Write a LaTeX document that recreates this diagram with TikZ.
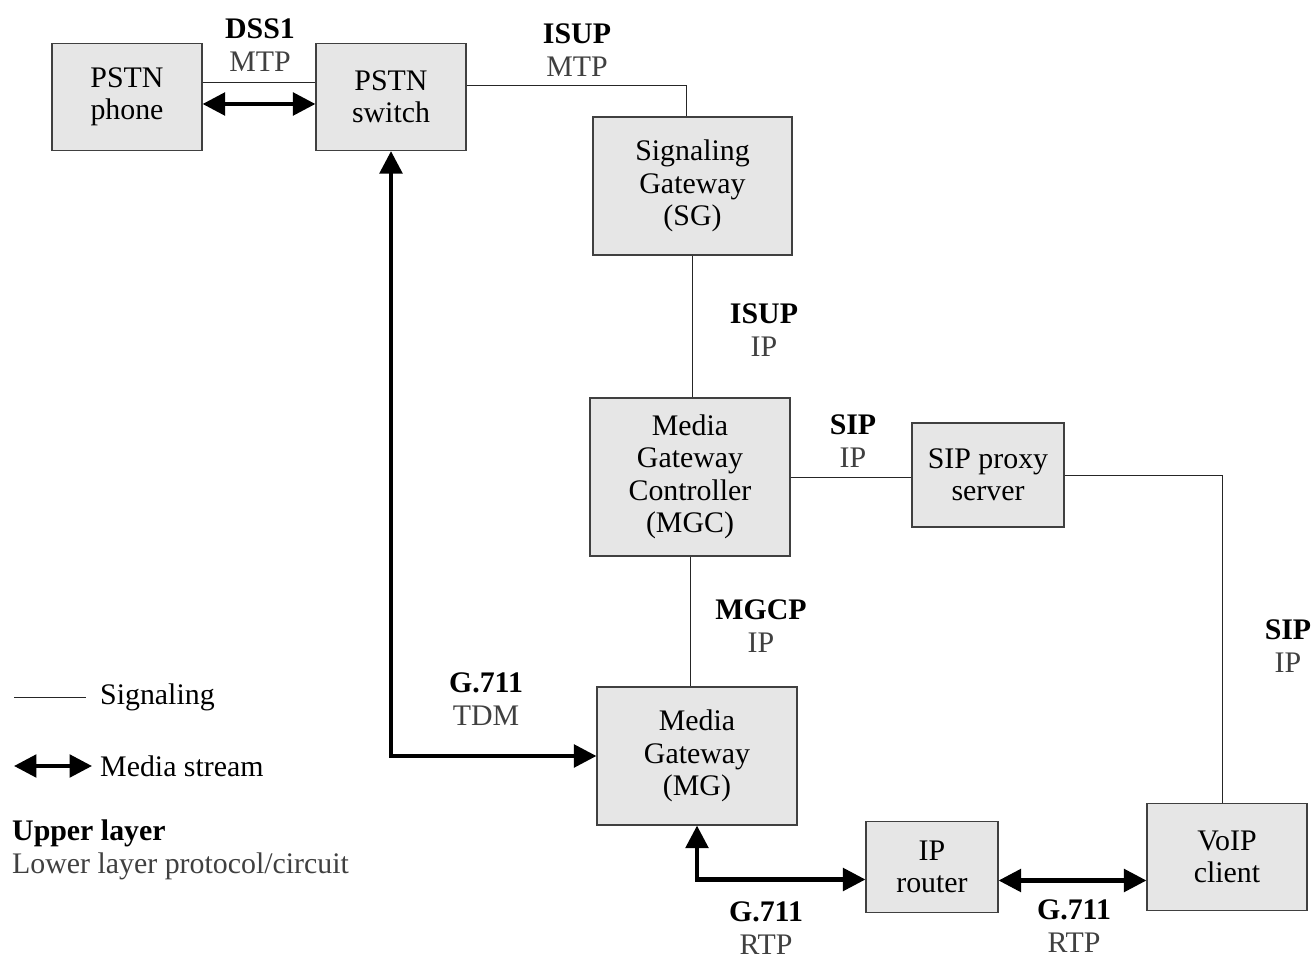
\documentclass[tikz,border=0pt]{standalone}
\usepackage{fontspec}
\setmainfont{Liberation Serif}
\usetikzlibrary{arrows.meta}
\definecolor{boxgray}{HTML}{E6E6E6}
\definecolor{lowgray}{HTML}{404040}
\newcommand{\layers}[2]{\textbf{#1}\\\textcolor{lowgray}{#2}}

\begin{document}
\begin{tikzpicture}[
            x=0.02cm, y=-0.02cm,
            every node/.style={font=\fontsize{17}{18.5}\selectfont, align=center},
            box/.style={draw=black!75, fill=boxgray, line width=0.7pt, inner sep=0pt},
            sig/.style={draw=black!85, line width=0.5pt},
            media/.style={line width=2.3pt,
                {Triangle[length=0.45cm,width=0.45cm]}-{Triangle[length=0.45cm,width=0.45cm]}}
            ]
            \useasboundingbox (0,0) rectangle (1312,959);
            % boxes
            \node[box, minimum width=3cm, minimum height=2.14cm] (phone) at (127, 97) {PSTN\\phone};
            \node[box, minimum width=3cm, minimum height=2.14cm] (switch) at (391, 97) {PSTN\\switch};
            \node[box, minimum width=3.98cm, minimum height=2.76cm] (sg) at (692.5, 186) {Signaling\\Gateway\\(SG)};
            \node[box, minimum width=4cm, minimum height=3.16cm] (mgc) at (690, 477) {Media\\Gateway\\Controller\\(MGC)};
            \node[box, minimum width=3.04cm, minimum height=2.08cm] (sip) at (988, 475) {SIP proxy\\server};
            \node[box, minimum width=4cm, minimum height=2.76cm] (mg) at (697, 756) {Media\\Gateway\\(MG)};
            \node[box, minimum width=2.64cm, minimum height=1.82cm] (router) at (932, 867) {IP\\router};
            \node[box, minimum width=3.2cm, minimum height=2.14cm] (voip) at (1227, 857) {VoIP\\client};
            % signaling
            \draw[sig] ([yshift=0.29cm]phone.east) -- ([yshift=0.29cm]switch.west);
            \draw[sig] ([yshift=0.23cm]switch.east) -| ([xshift=-0.13cm]sg.north);
            \draw[sig] (sg.south) -- (sg.south |- mgc.north);
            \draw[sig] (mgc.east) -- (mgc.east -| sip.west);
            \draw[sig] (sip.east) -| ([xshift=-0.1cm]voip.north);
            \draw[sig] (mgc.south) -- (mgc.south |- mg.north);
            % media
            \draw[media] ([yshift=-0.14cm]phone.east) -- ([yshift=-0.14cm]switch.west);
            \draw[media] (switch.south) |- (mg.west);
            \draw[media] (mg.south) |- ([yshift=-0.25cm]router.west);
            \draw[media] ([yshift=-0.27cm]router.east) -- ([yshift=-0.27cm]router.east -| voip.west);
            % protocol labels
            \node (dss) at (260, 45) {\layers{DSS1}{MTP}};
            \node (isupa) at (577, 50) {\layers{ISUP}{MTP}};
            \node (isupb) at (764, 330) {\layers{ISUP}{IP}};
            \node (sipa) at (853, 441) {\layers{SIP}{IP}};
            \node (mgcp) at (761, 626) {\layers{MGCP}{IP}};
            \node (sipb) at (1288, 646) {\layers{SIP}{IP}};
            \node (tdm) at (486, 699) {\layers{G.711}{TDM}};
            \node (rtpa) at (766, 928) {\layers{G.711}{RTP}};
            \node (rtpb) at (1074, 926) {\layers{G.711}{RTP}};
            % legend
            \coordinate (sigl) at (14, 697);
            \coordinate (sigr) at (86, 697);
            \draw[sig] (sigl) -- (sigr);
            \node[anchor=west] (sigtext) at (94, 697) {Signaling};
            \coordinate (medl) at (14, 766);
            \coordinate (medr) at (92, 766);
            \draw[media] (medl) -- (medr);
            \node[anchor=west] (medtext) at (94, 766) {Media stream};
            \node[anchor=west, align=left] (layertext) at (6, 850) {\layers{Upper layer}{Lower layer protocol/circuit}};
        \end{tikzpicture}
\end{document}
